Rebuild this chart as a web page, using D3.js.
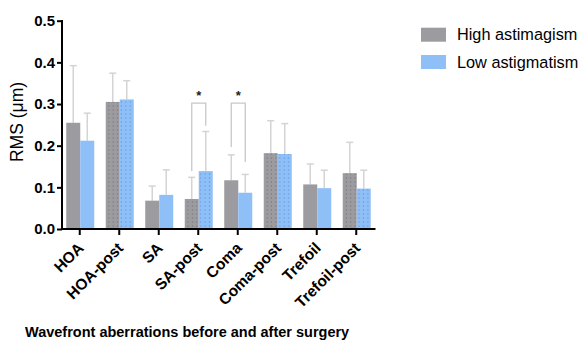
<!DOCTYPE html>
<html><head><meta charset="utf-8">
<script src="https://cdn.jsdelivr.net/npm/d3@7"></script>
<style>body{margin:0;background:#fff;} svg{display:block;font-family:"Liberation Sans",Arial,sans-serif;}</style>
</head><body>
<svg id="c" width="582" height="341"></svg>
<script>
const categories = ["HOA","HOA-post","SA","SA-post","Coma","Coma-post","Trefoil","Trefoil-post"];
const patterned = [false,true,false,true,false,true,false,true];
const seriesNames = ["High astimagism","Low astigmatism"];
const highMean = [0.255,0.305,0.068,0.072,0.117,0.182,0.107,0.134];
const highErrTop = [0.392,0.374,0.103,0.124,0.178,0.260,0.156,0.208];
const lowMean = [0.212,0.311,0.082,0.139,0.087,0.180,0.098,0.097];
const lowErrTop = [0.278,0.356,0.142,0.234,0.131,0.253,0.141,0.141];
const yTicks = [0.0,0.1,0.2,0.3,0.4,0.5];
const brackets = [
  {cat:"SA-post", top:0.302, left:0.139, right:0.248, label:"*"},
  {cat:"Coma", top:0.302, left:0.197, right:0.161, label:"*"}
];
const title = "Wavefront aberrations before and after surgery";
const yLabel = "RMS (μm)";

const colors = ["#9c9b9f","#8fbff7"];
const dotColors = ["#707074","#5f93d6"];

const svg = d3.select("#c");
const x = d3.scaleBand().domain(categories).range([60,376]).padding(0);
const y = d3.scaleLinear().domain([0,0.5]).range([229,20.7]);
const bw = 14;

const defs = svg.append("defs");
colors.forEach((c,i)=>{
  const p = defs.append("pattern").attr("id","dots"+i).attr("patternUnits","userSpaceOnUse")
    .attr("width",4.4).attr("height",4).attr("x",i===0?1:0.5).attr("y",0);
  p.append("rect").attr("width",4.4).attr("height",4).attr("fill",c);
  p.append("rect").attr("x",1.6).attr("y",1.5).attr("width",1.1).attr("height",1.1).attr("fill",dotColors[i]);
});

const series = [
  {mean:highMean, err:highErrTop, off:-13.5},
  {mean:lowMean, err:lowErrTop, off:0.5}
];
const errColor = "#d4d4d4";
series.forEach((s,si)=>{
  categories.forEach((cat,i)=>{
    const cx = x(cat)+x.bandwidth()/2 + s.off;
    const bcx = cx + bw/2;
    svg.append("line").attr("x1",bcx).attr("x2",bcx).attr("y1",y(s.mean[i])).attr("y2",y(s.err[i]))
      .attr("stroke",errColor).attr("stroke-width",1.5);
    svg.append("line").attr("x1",bcx-3.5).attr("x2",bcx+3.5).attr("y1",y(s.err[i])).attr("y2",y(s.err[i]))
      .attr("stroke",errColor).attr("stroke-width",1.5);
    svg.append("rect").attr("x",cx).attr("y",y(s.mean[i])).attr("width",bw).attr("height",y(0)-y(s.mean[i]))
      .attr("fill", patterned[i] ? `url(#dots${si})` : colors[si]);
  });
});

brackets.forEach(b=>{
  const c = x(b.cat)+x.bandwidth()/2;
  const lx = c-13.5+bw/2, rx = c+0.5+bw/2;
  svg.append("path").attr("d",`M${lx},${y(b.left)}V${y(b.top)}H${rx}V${y(b.right)}`)
    .attr("fill","none").attr("stroke","#c8c8c8").attr("stroke-width",1.3);
  svg.append("text").attr("x",(lx+rx)/2).attr("y",y(b.top)-3).attr("text-anchor","middle")
    .attr("font-size",13).attr("font-weight","bold").attr("fill","#222").text(b.label);
});

const xAxis = svg.append("g").attr("transform","translate(0,229)")
  .call(d3.axisBottom(x).tickSize(6).tickSizeOuter(0));
xAxis.select(".domain").attr("d","M61.5,0H375.5").attr("stroke","#000").attr("stroke-width",2);
xAxis.selectAll(".tick line").attr("stroke","#000").attr("stroke-width",2).attr("y1",0);
xAxis.selectAll(".tick text").attr("font-size",15.5).attr("font-weight","bold").attr("fill","#000")
  .attr("font-family","'Liberation Sans',Arial,sans-serif")
  .attr("text-anchor","end").attr("dy",null).attr("y",0)
  .attr("transform","translate(5,20) rotate(-45)");

const yAxis = svg.append("g").attr("transform","translate(62,0)")
  .call(d3.axisLeft(y).tickValues(yTicks).tickFormat(d3.format(".1f")).tickSize(5).tickSizeOuter(0));
yAxis.select(".domain").attr("d","M0,20H0V230").attr("stroke","#000").attr("stroke-width",2);
yAxis.selectAll(".tick line").attr("stroke","#000").attr("stroke-width",2);
yAxis.selectAll(".tick text").attr("font-size",15).attr("font-weight","bold").attr("fill","#000")
  .attr("font-family","'Liberation Sans',Arial,sans-serif").attr("x",-7);

svg.append("text").attr("transform","translate(23,122) rotate(-90)").attr("text-anchor","middle")
  .attr("font-size",17.5).attr("fill","#000").text(yLabel);

seriesNames.forEach((n,i)=>{
  const ly = 27.7 + i*27.3;
  svg.append("rect").attr("x",421).attr("y",ly).attr("width",25).attr("height",14).attr("fill",colors[i]);
  svg.append("text").attr("x",457).attr("y",ly+12.5).attr("font-size",16.3).attr("fill","#000").text(n);
});

svg.append("text").attr("x",25).attr("y",336.5).attr("font-size",14.5).attr("font-weight","bold")
  .attr("fill","#000").text(title);
</script>
</body></html>
